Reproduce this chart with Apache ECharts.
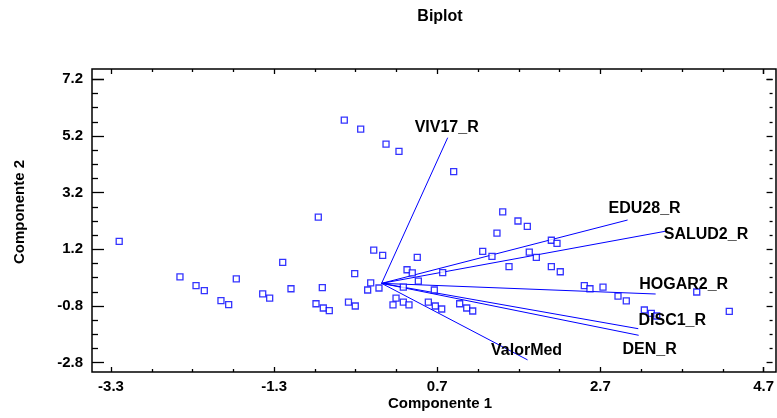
<!DOCTYPE html>
<html><head><meta charset="utf-8">
<script src="https://cdn.jsdelivr.net/npm/echarts@6/dist/echarts.min.js"></script>
<style>html,body{margin:0;padding:0;background:#fff}#c{width:777px;height:418px}</style>
</head><body><div id="c"></div>
<script>
// ---------- data ----------
const chartTitle = 'Biplot';
const xTitle = 'Componente 1';
const yTitle = 'Componente 2';
const xTicks = [-3.3, -1.3, 0.7, 2.7, 4.7];
const yTicks = [-2.8, -0.8, 1.2, 3.2, 5.2, 7.2];

const scoreX = [-3.20, -0.455, -0.255, 0.054, 0.212, 0.879, -0.772, 1.477, 1.663, 1.777,
  1.407, 2.07, 2.139, -0.096, 0.013, 0.435, 1.233, 1.346, 1.801, 1.887,
  1.554, 2.07, 2.179, -1.206, -2.459, -1.772, -2.263, -2.162, -1.105, -0.723,
  -1.45, -1.365, -1.959, -1.865, -0.80, -0.711, -0.638, -0.404, -0.321, -0.328,
  0.31, 0.374, 0.745, -0.133, -0.17, -0.032, 0.448, 0.265, 0.643, 0.176,
  0.139, 0.265, 0.334, 0.57, 0.655, 0.733, 0.952, 1.038, 1.111, 2.472,
  2.541, 2.70, 2.883, 2.984, 3.843, 3.204, 3.289, 3.355, 4.24];
const scoreY = [1.48, 5.76, 5.44, 4.91, 4.66, 3.94, 2.34, 2.52, 2.20, 2.01,
  1.77, 1.52, 1.41, 1.17, 0.99, 0.92, 1.13, 0.95, 1.10, 0.92,
  0.59, 0.59, 0.41, 0.74, 0.23, 0.16, -0.08, -0.26, -0.19, -0.15,
  -0.37, -0.52, -0.61, -0.75, -0.72, -0.87, -0.965, -0.66, -0.80, 0.34,
  0.48, 0.37, 0.38, 0.02, -0.235, -0.164, 0.08, -0.13, -0.235, -0.52,
  -0.76, -0.66, -0.76, -0.66, -0.80, -0.905, -0.72, -0.87, -0.976, -0.08,
  -0.19, -0.13, -0.45, -0.62, -0.305, -0.94, -1.057, -1.152, -0.986];

const vectorNames = ['VIV17_R', 'EDU28_R', 'SALUD2_R', 'HOGAR2_R', 'DISC1_R', 'DEN_R', 'ValorMed'];
const vectorX = [0.806, 3.0, 3.456, 3.342, 3.13, 3.135, 1.78];
const vectorY = [5.14, 2.235, 1.836, -0.376, -1.6, -1.833, -2.70];

// ---------- styles / layout ----------
const labelOffsets = [[-1, -10], [17, -11], [41, 3], [28, -9], [34, -8], [11, 14], [-1, -9]];
const FONT = "'Liberation Sans', Arial, sans-serif";
const BLUE = '#0000ff';
const BOX = {left: 92, top: 69, right: 776, bottom: 372};
const TF = {left: 111, top: 79.3, right: 767, bottom: 362.7};

const xmin = xTicks[0], xmax = xTicks[xTicks.length - 1], xint = xTicks[1] - xTicks[0];
const ymin = yTicks[0], ymax = yTicks[yTicks.length - 1], yint = yTicks[1] - yTicks[0];
const pxX = (TF.right - TF.left) / (xmax - xmin);
const pxY = (TF.bottom - TF.top) / (ymax - ymin);
const XMIN = xmin - (TF.left - BOX.left) / pxX;
const XMAX = xmax + (BOX.right - TF.right) / pxX;
const YMIN = ymin - (BOX.bottom - TF.bottom) / pxY;
const YMAX = ymax + (TF.top - BOX.top) / pxY;

const fmt = v => (Math.round(v * 10) / 10).toFixed(1);
const tickLine = {color: '#000', width: 1.3};
const labelStyle = {color: '#000', fontFamily: FONT, fontWeight: 'bold', fontSize: 15};
const noLine = {show: false, onZero: false};

const chart = echarts.init(document.getElementById('c'), null, {renderer: 'canvas'});
chart.setOption({
  animation: false,
  backgroundColor: '#fff',
  grid: [
    {left: BOX.left, top: BOX.top, width: BOX.right - BOX.left, height: BOX.bottom - BOX.top,
     show: true, borderColor: '#000', borderWidth: 1.5, backgroundColor: 'transparent'},
    {left: TF.left, top: TF.top, width: TF.right - TF.left, height: TF.bottom - TF.top}
  ],
  xAxis: [
    {gridIndex: 0, type: 'value', min: XMIN, max: XMAX, show: false},
    {gridIndex: 1, type: 'value', position: 'bottom', min: xmin, max: xmax, interval: xint,
     offset: BOX.bottom - TF.bottom,
     axisLine: noLine, splitLine: {show: false},
     axisTick: {show: true, inside: true, length: 5, lineStyle: tickLine},
     minorTick: {show: true, splitNumber: 4, length: 3, lineStyle: tickLine},
     axisLabel: Object.assign({formatter: fmt, margin: 7, showMinLabel: true, showMaxLabel: true}, labelStyle)},
    {gridIndex: 1, type: 'value', position: 'top', min: xmin, max: xmax, interval: xint,
     offset: TF.top - BOX.top,
     axisLine: noLine, splitLine: {show: false}, axisLabel: {show: false},
     axisTick: {show: true, inside: true, length: 5, lineStyle: tickLine},
     minorTick: {show: true, splitNumber: 4, length: 3, lineStyle: tickLine}}
  ],
  yAxis: [
    {gridIndex: 0, type: 'value', min: YMIN, max: YMAX, show: false},
    {gridIndex: 1, type: 'value', position: 'left', min: ymin, max: ymax, interval: yint,
     offset: TF.left - BOX.left,
     axisLine: noLine, splitLine: {show: false},
     axisTick: {show: true, inside: true, length: 12, lineStyle: tickLine},
     minorTick: {show: true, splitNumber: 4, length: 6, lineStyle: tickLine},
     axisLabel: Object.assign({formatter: fmt, margin: 9, showMinLabel: true, showMaxLabel: true}, labelStyle)},
    {gridIndex: 1, type: 'value', position: 'right', min: ymin, max: ymax, interval: yint,
     offset: BOX.right - TF.right,
     axisLine: noLine, splitLine: {show: false}, axisLabel: {show: false},
     axisTick: {show: true, inside: true, length: 6, lineStyle: tickLine},
     minorTick: {show: true, splitNumber: 4, length: 3, lineStyle: tickLine}}
  ],
  graphic: [
    {type: 'text', x: 440, y: 17, style: {text: chartTitle, fill: '#000', font: 'bold 16px ' + FONT, textAlign: 'center', textVerticalAlign: 'middle'}},
    {type: 'text', x: 440, y: 404, style: {text: xTitle, fill: '#000', font: 'bold 15px ' + FONT, textAlign: 'center', textVerticalAlign: 'middle'}},
    {type: 'text', x: 20, y: 212, rotation: Math.PI / 2, style: {text: yTitle, fill: '#000', font: 'bold 15px ' + FONT, textAlign: 'center', textVerticalAlign: 'middle'}}
  ],
  series: [
    {type: 'lines', coordinateSystem: 'cartesian2d', xAxisIndex: 0, yAxisIndex: 0, silent: true,
     lineStyle: {color: BLUE, width: 1, opacity: 1},
     data: vectorNames.map((n, i) => ({coords: [[0, 0], [vectorX[i], vectorY[i]]]}))},
    {type: 'scatter', xAxisIndex: 0, yAxisIndex: 0, symbol: 'rect', symbolSize: 6,
     itemStyle: {color: '#fff', borderColor: BLUE, borderWidth: 1.3},
     data: scoreX.map((x, i) => [x, scoreY[i]])},
    {type: 'scatter', xAxisIndex: 0, yAxisIndex: 0, symbolSize: 0, silent: true,
     itemStyle: {color: '#000'},
     data: vectorNames.map((n, i) => ({name: n, value: [vectorX[i], vectorY[i]],
       label: {offset: labelOffsets[i]}})),
     label: {show: true, position: [0, 0], align: 'center', verticalAlign: 'middle',
       formatter: p => p.name, color: '#000', opacity: 1,
       fontFamily: FONT, fontWeight: 'bold', fontSize: 16}}
  ]
});
</script></body></html>
